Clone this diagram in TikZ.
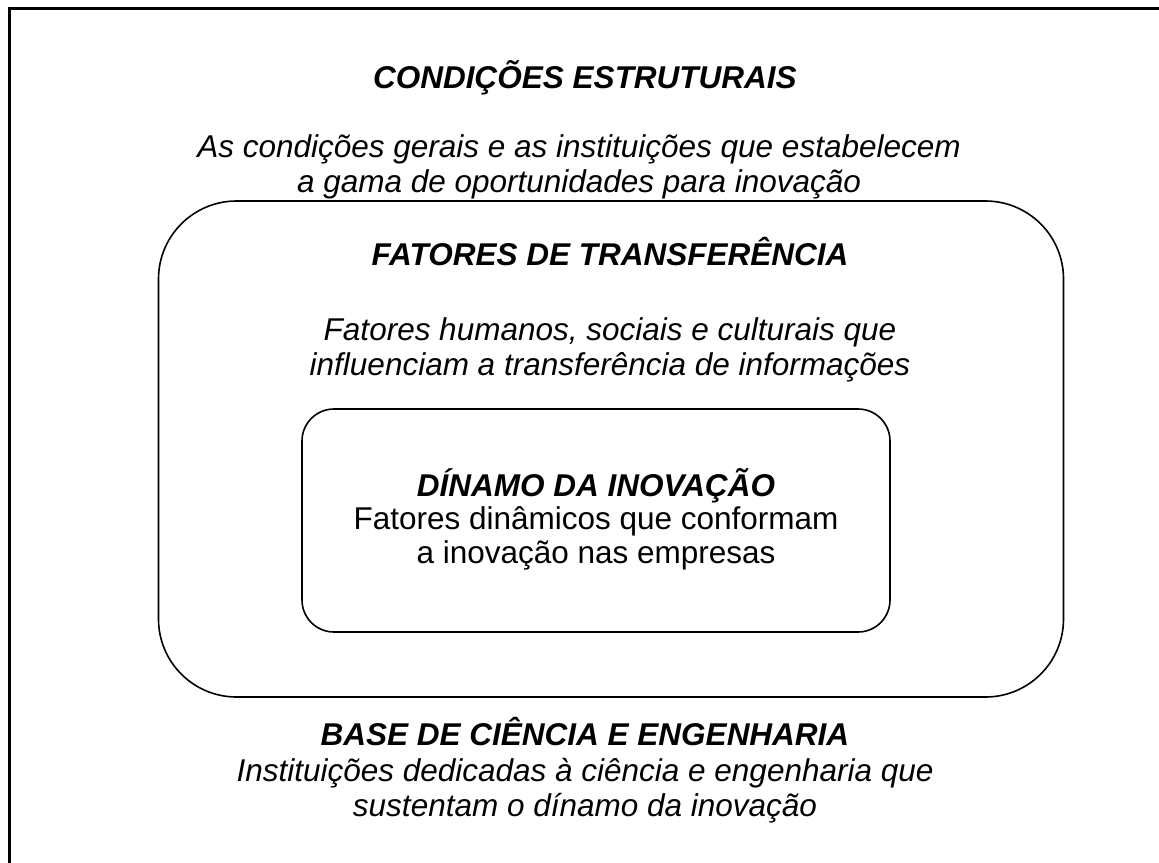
\documentclass[tikz,border=0pt]{standalone}
\usepackage{fontspec}
\setmainfont{Liberation Sans}
\begin{document}
\begin{tikzpicture}[x=1pt,y=-1pt,
  txt/.style={inner sep=0pt, align=center, anchor=base, font=\fontsize{31.5}{35}\selectfont\itshape},
  ttl/.style={txt, font=\fontsize{31.5}{35}\selectfont\bfseries\itshape},
  plain/.style={inner sep=0pt, align=center, anchor=base, font=\fontsize{31.5}{33.5}\selectfont},
  boxline/.style={draw=black, line width=1.6pt, fill=none, inner sep=0pt}]
\useasboundingbox (0,0) rectangle (1159,862);
% outer frame (extends past the picture on the right and bottom)
\node[draw=black, line width=2.6pt, inner sep=0pt, minimum width=1170pt, minimum height=870pt, anchor=north west] (outer) at (8,7) {};
% middle rounded box
\node[boxline, rounded corners=78pt, minimum width=905pt, minimum height=496pt] (mid) at (611,449) {};
% inner rounded box
\node[boxline, rounded corners=32pt, minimum width=588pt, minimum height=223pt] (inner) at (596,520.5) {};
% texts (multi-line nodes are anchored at the baseline of their last line)
\node[ttl] (condT) at (585,88) {CONDIÇÕES ESTRUTURAIS};
\node[txt] (condX) at (579,192) {As condições gerais e as instituições que estabelecem\\a gama de oportunidades para inovação};
\node[ttl] (fatT) at (610,265) {FATORES DE TRANSFERÊNCIA};
\node[txt] (fatX) at (610,375) {Fatores humanos, sociais e culturais que\\influenciam a transferência de informações};
\node[ttl] (dinT) at (596,496) {DÍNAMO DA INOVAÇÃO};
\node[plain] (dinX) at (596,563) {Fatores dinâmicos que conformam\\a inovação nas empresas};
\node[ttl] (baseT) at (585,745) {BASE DE CIÊNCIA E ENGENHARIA};
\node[txt] (baseX) at (585,816) {Instituições dedicadas à ciência e engenharia que\\sustentam o dínamo da inovação};
\end{tikzpicture}
\end{document}
